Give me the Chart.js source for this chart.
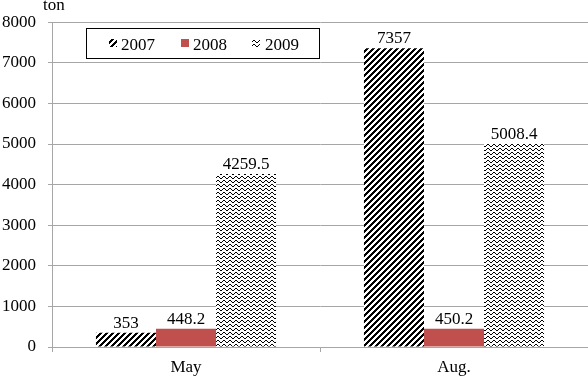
<!DOCTYPE html>
<html lang="en">
<head>
    <meta charset="UTF-8">
    <title>Output by month</title>
    <script src="https://cdn.jsdelivr.net/npm/chart.js"></script>
    <style>
        html, body { margin: 0; padding: 0; background: #fff; }
        .chart-box { width: 588px; height: 379px; }
    </style>
</head>
<body>
    <div class="chart-box">
        <canvas id="tonChart" width="588" height="379"></canvas>
    </div>

    <script>
        // data
        const months = ['May', 'Aug.'];
        const years = ['2007', '2008', '2009'];
        const values2007 = [353, 7357];
        const values2008 = [448.2, 450.2];
        const values2009 = [4259.5, 5008.4];
        const yTicks = [0, 1000, 2000, 3000, 4000, 5000, 6000, 7000, 8000];

        const serif = '"Liberation Serif", "DejaVu Serif", serif';

        // pixel patterns like the old office fills
        function makePattern(w, h, isBlack) {
            const c = document.createElement('canvas');
            c.width = w; c.height = h;
            const g = c.getContext('2d');
            g.fillStyle = '#fff';
            g.fillRect(0, 0, w, h);
            g.fillStyle = '#000';
            for (let y = 0; y < h; y++) {
                for (let x = 0; x < w; x++) {
                    if (isBlack(x, y)) g.fillRect(x, y, 1, 1);
                }
            }
            return g.createPattern(c, 'repeat');
        }

        const stripes = makePattern(6, 6, function(x, y) { return (x + y) % 6 < 3; });
        const waveY = [1, 0, 0, 1, 2, 2];
        const waves = makePattern(6, 4, function(x, y) { return waveY[x] === y; });
        const red = '#c0504d';

        const fills = [stripes, red, waves];

        const valueLabels = {
            id: 'valueLabels',
            afterDatasetsDraw(chart) {
                const ctx = chart.ctx;
                ctx.save();
                ctx.font = '17px ' + serif;
                ctx.fillStyle = '#000';
                ctx.textAlign = 'center';
                ctx.textBaseline = 'bottom';
                chart.data.datasets.forEach(function(ds, i) {
                    chart.getDatasetMeta(i).data.forEach(function(bar, j) {
                        ctx.fillText(String(ds.data[j]), bar.x, bar.y - 1);
                    });
                });
                ctx.restore();
            }
        };

        const boxLegend = {
            id: 'boxLegend',
            afterDraw(chart) {
                const ctx = chart.ctx;
                ctx.save();
                ctx.fillStyle = '#fff';
                ctx.fillRect(86, 28, 233, 30);
                ctx.strokeStyle = '#000';
                ctx.lineWidth = 1;
                ctx.strokeRect(86.5, 28.5, 233, 30);

                const iconX = [109, 181, 252];
                const textX = [121, 193, 265];
                ctx.font = '17px ' + serif;
                ctx.textBaseline = 'alphabetic';
                ctx.textAlign = 'left';
                years.forEach(function(y, i) {
                    ctx.fillStyle = fills[i];
                    ctx.fillRect(iconX[i], 39, 8, 8);
                    ctx.fillStyle = '#000';
                    ctx.fillText(y, textX[i], 50);
                });

                // unit label over the value axis
                ctx.font = '17px ' + serif;
                ctx.fillText('ton', 43, 10);
                ctx.restore();
            }
        };

        const ctx = document.getElementById('tonChart').getContext('2d');
        new Chart(ctx, {
            type: 'bar',
            data: {
                labels: months,
                datasets: [
                    { label: years[0], data: values2007, backgroundColor: stripes },
                    { label: years[1], data: values2008, backgroundColor: red },
                    { label: years[2], data: values2009, backgroundColor: waves }
                ]
            },
            options: {
                responsive: false,
                animation: false,
                events: [],
                layout: { padding: { top: 16, right: 0, left: 0, bottom: 0 } },
                datasets: {
                    bar: { barPercentage: 1, categoryPercentage: 0.672, borderWidth: 0 }
                },
                plugins: {
                    legend: { display: false },
                    tooltip: { enabled: false }
                },
                scales: {
                    x: {
                        grid: { offset: true, drawOnChartArea: false, tickLength: 5, color: '#a6a6a6' },
                        border: { color: '#a6a6a6' },
                        ticks: { color: '#000', font: { family: serif, size: 17 }, padding: 5 },
                        afterFit(scale) { scale.height = 32; }
                    },
                    y: {
                        min: 0,
                        max: 8000,
                        afterBuildTicks(scale) {
                            scale.ticks = yTicks.map(function(v) { return { value: v }; });
                        },
                        grid: { color: '#a6a6a6', tickLength: 4 },
                        border: { color: '#a6a6a6' },
                        ticks: {
                            color: '#000',
                            font: { family: serif, size: 17 },
                            padding: 12,
                            callback: function(v) { return String(v); }
                        },
                        afterFit(scale) { scale.width = 52; }
                    }
                }
            },
            plugins: [valueLabels, boxLegend]
        });
    </script>
</body>
</html>
